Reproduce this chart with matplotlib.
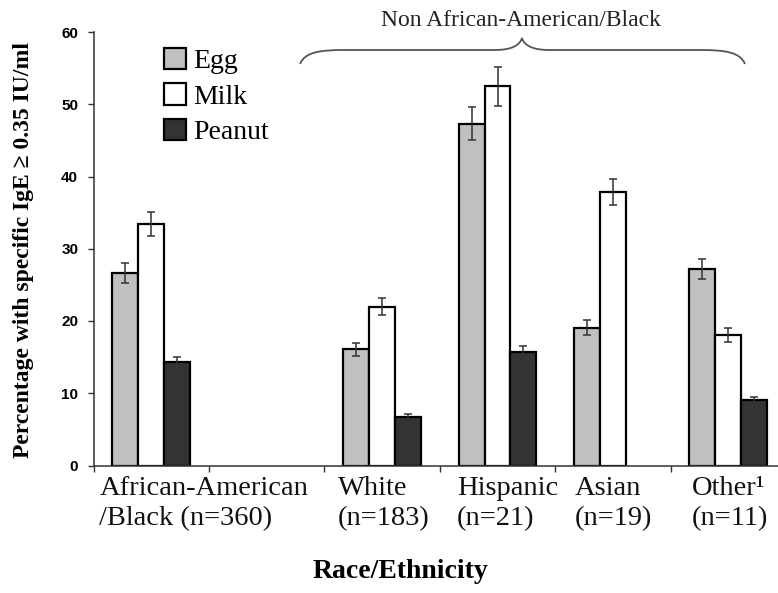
import numpy as np
import matplotlib
matplotlib.use("Agg")
import matplotlib.pyplot as plt
from matplotlib.patches import Patch, PathPatch
from matplotlib.path import Path
from matplotlib.transforms import blended_transform_factory

groups = ["African-American\n/Black (n=360)", "White\n(n=183)",
          "Hispanic\n(n=21)", "Asian\n(n=19)", "Other\u00b9\n(n=11)"]
slots = [0, 2, 3, 4, 5]

egg = [26.6, 16.1, 47.3, 19.1, 27.2]
egg_err = [1.4, 0.9, 2.3, 1.0, 1.45]
milk = [33.4, 22.0, 52.5, 37.9, 18.1]
milk_err = [1.7, 1.2, 2.7, 1.8, 1.0]
peanut = [14.3, 6.75, 15.7, 0.0, 9.1]
peanut_err = [0.75, 0.35, 0.8, np.nan, 0.4]

series = ["Egg", "Milk", "Peanut"]
colors = ["#c0c0c0", "#ffffff", "#333333"]
yticks = [0, 10, 20, 30, 40, 50, 60]


def px(x, y):
    '''pixel position -> figure fraction'''
    return x / 778, 1 - y / 593


def main():
    serif = "Liberation Serif"
    fig = plt.figure(figsize=(7.78, 5.93), dpi=100)
    ax = fig.add_axes([93.5 / 778, 1 - 465.5 / 593, 1 - 93.5 / 778,
                       (465.5 - 32) / 593])

    w = 0.225
    x = np.array(slots, dtype=float)
    data = [(egg, egg_err), (milk, milk_err), (peanut, peanut_err)]
    for i, (vals, errs) in enumerate(data):
        # a zero bar is not drawn in the original
        shown = np.where(np.array(vals) == 0, np.nan, vals)
        ax.bar(x + (i - 1) * w, shown, w, color=colors[i],
               edgecolor="black", linewidth=1.6, zorder=2)
        ax.errorbar(x + (i - 1) * w, shown, yerr=errs, fmt="none",
                    ecolor="#333333", elinewidth=1.1, capsize=3.2,
                    capthick=1.1, zorder=3)

    ax.set_xlim(-0.5, 5.43)
    ax.set_ylim(0, 60)
    ax.set_yticks(yticks)
    ax.set_xticks(np.arange(-0.5, 5.0, 1.0))
    ax.set_xticklabels([])
    for lab in ax.get_yticklabels():
        lab.set_fontfamily("Liberation Sans")
        lab.set_fontweight("bold")
        lab.set_fontsize(11)
    ax.tick_params(axis="y", direction="out", length=4, width=1,
                   color="#333333", pad=7)
    ax.tick_params(axis="x", direction="out", length=4.5, width=1,
                   color="#333333")
    for s in ["top", "right"]:
        ax.spines[s].set_visible(False)
    for s in ["left", "bottom"]:
        ax.spines[s].set_color("#333333")
        ax.spines[s].set_linewidth(1.1)

    # category labels, left aligned under each group
    label_x = [-0.45, 1.62, 2.65, 3.67, 4.68]
    trans = blended_transform_factory(ax.transData, fig.transFigure)
    for lx, g in zip(label_x, groups):
        ax.text(lx, px(0, 476)[1], g, transform=trans, ha="left", va="top",
                family=serif, fontsize=20.5, linespacing=1.25,
                color="#111111")

    fig.text(*px(400, 572), "Race/Ethnicity", ha="center", va="center",
             family=serif, fontsize=20, fontweight="bold")
    fig.text(*px(24, 250), "Percentage with specific IgE \u2265 0.35 IU/ml",
             rotation=90, ha="center", va="center", family=serif,
             fontsize=17, fontweight="bold")

    handles = [Patch(facecolor=c, edgecolor="black", linewidth=1.6)
               for c in colors]
    fig.legend(handles, series, loc="upper left",
               bbox_to_anchor=px(164, 48), frameon=False,
               prop={"family": serif, "size": 20}, borderpad=0,
               handlelength=0.8, handleheight=0.8, handletextpad=0.25,
               labelspacing=0.33, borderaxespad=0)

    # brace over the non African-American/Black groups
    pts = [(300, 64), (305, 52), (320, 50), (345, 50), (495, 50),
           (512, 50), (520, 45), (522, 38), (524, 45), (532, 50),
           (549, 50), (700, 50), (725, 50), (740, 52), (745, 64)]
    codes = [Path.MOVETO, Path.CURVE4, Path.CURVE4, Path.CURVE4,
             Path.LINETO, Path.CURVE4, Path.CURVE4, Path.CURVE4,
             Path.CURVE4, Path.CURVE4, Path.CURVE4, Path.LINETO,
             Path.CURVE4, Path.CURVE4, Path.CURVE4]
    brace = Path([px(*p) for p in pts], codes)
    fig.patches.append(PathPatch(brace, facecolor="none",
                                 edgecolor="#555555", linewidth=1.3,
                                 transform=fig.transFigure))
    fig.text(*px(521, 20), "Non African-American/Black", ha="center",
             va="center", family=serif, fontsize=17, color="#222222")

    fig.savefig("out.png", dpi=100)


if __name__ == "__main__":
    main()
